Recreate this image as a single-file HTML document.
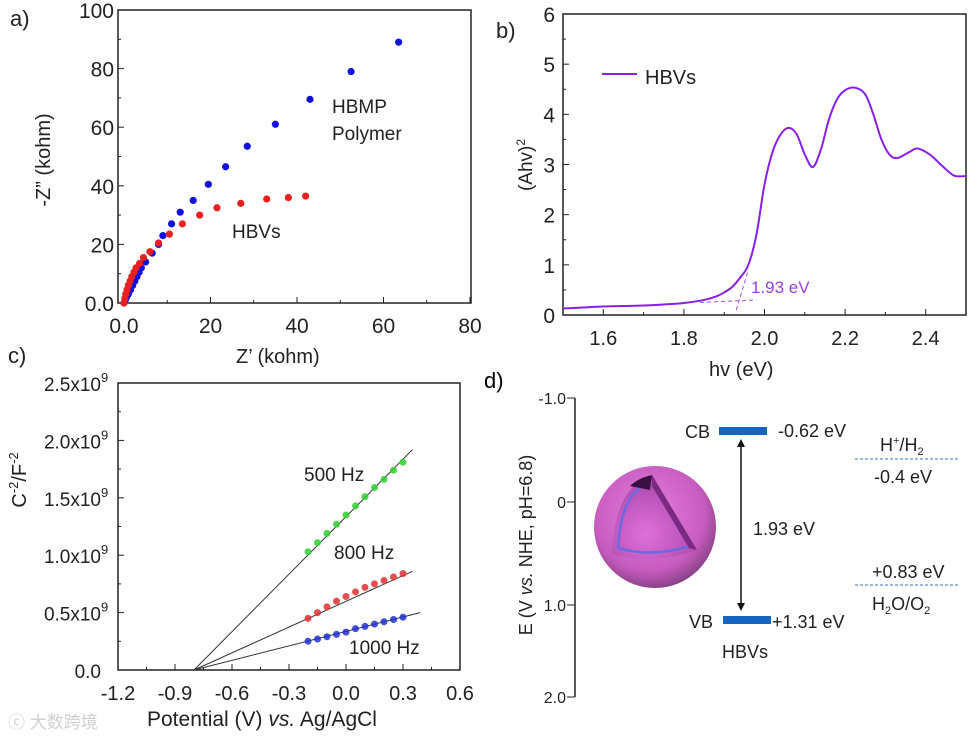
<!DOCTYPE html>
<html><head><meta charset="utf-8"><style>
html,body{margin:0;padding:0;background:#fff;}
svg{display:block;font-family:"Liberation Sans","Noto Sans CJK SC",sans-serif;}
</style></head><body>
<svg id="fig" width="976" height="736" viewBox="0 0 976 736" xmlns="http://www.w3.org/2000/svg">
<defs>
<radialGradient id="sph" cx="0.45" cy="0.4" r="0.65">
<stop offset="0" stop-color="#e97fe0"/><stop offset="0.7" stop-color="#c75cc0"/><stop offset="1" stop-color="#7a3a78"/>
</radialGradient>
<radialGradient id="inner" cx="0.4" cy="0.7" r="0.8">
<stop offset="0" stop-color="#e070dc"/><stop offset="1" stop-color="#a040a0"/>
</radialGradient>
</defs>
<g id="pa"></g>
<g id="pb"></g>
<g id="pc"></g>
<g id="pd">
<text x="484" y="388" font-size="22">d)</text>
<line x1="575" y1="398" x2="575" y2="697" stroke="#222" stroke-width="1.5"/>
<g font-size="16" text-anchor="end" fill="#222">
<line x1="567" y1="398" x2="575" y2="398" stroke="#222"/><text x="566" y="404">-1.0</text>
<line x1="567" y1="502" x2="575" y2="502" stroke="#222"/><text x="566" y="508">0</text>
<line x1="567" y1="605" x2="575" y2="605" stroke="#222"/><text x="566" y="611">1.0</text>
<line x1="567" y1="697" x2="575" y2="697" stroke="#222"/><text x="566" y="703">2.0</text>
</g>
<text transform="translate(532,545) rotate(-90)" font-size="18" text-anchor="middle" fill="#222">E (V <tspan font-style="italic">vs.</tspan> NHE, pH=6.8)</text>
<g>
<circle cx="655" cy="527" r="61" fill="url(#sph)"/>
<path d="M652,475 Q614,488 612,554 Q652,566 697,550 Z" fill="url(#inner)"/>
<path d="M648,483 Q621,494 618,548 Q652,558 690,546" fill="none" stroke="#6a6ae0" stroke-width="2.5"/>
<path d="M652,475 L697,550 L689,548 L652,486 Z" fill="#7a2a80"/>
<path d="M652,475 Q638,478 630,486 L650,490 Z" fill="#3a1040"/>
</g>
<rect x="719" y="427" width="48" height="8" fill="#1565c0"/>
<rect x="723" y="616" width="48" height="8" fill="#1565c0"/>
<line x1="741" y1="446" x2="741" y2="604" stroke="#111" stroke-width="1.5"/>
<path d="M737,447 L741,439 L745,447 Z M737,603 L741,611 L745,603 Z" fill="#111"/>
<g font-size="18" fill="#222">
<text x="685" y="438">CB</text>
<text x="778" y="437">-0.62 eV</text>
<text x="753" y="535">1.93 eV</text>
<text x="689" y="628">VB</text>
<text x="772" y="628">+1.31 eV</text>
<text x="722" y="658">HBVs</text>
<text x="880" y="451">H<tspan font-size="11" dy="-7">+</tspan><tspan dy="7">/H</tspan><tspan font-size="11" dy="4">2</tspan></text>
<text x="874" y="483">-0.4 eV</text>
<text x="872" y="578">+0.83 eV</text>
<text x="872" y="610">H<tspan font-size="11" dy="4">2</tspan><tspan dy="-4">O/O</tspan><tspan font-size="11" dy="4">2</tspan></text>
</g>
<line x1="855" y1="459" x2="958" y2="459" stroke="#3b73c4" stroke-dasharray="3,2"/>
<line x1="855" y1="585" x2="958" y2="585" stroke="#3b73c4" stroke-dasharray="3,2"/>
</g>
<text x="8" y="728" font-size="17" fill="#cfcfcf">ⓒ 大数跨境</text>
</svg>
<script>
// Panel a data
const aBlueX=[0,0.3,0.6,1,1.5,2,2.5,3,3.5,4,5,6.5,8,9,11,13,16,19.5,23.5,28.5,35,43,52.5,63.5];
const aBlueY=[0,1,2,3,4.5,6,7.5,9,10.5,12,14,17,20,23,27,31,35,40.5,46.5,53.5,61,69.5,79,89];
const aRedX=[0,0.2,0.4,0.7,1,1.4,1.8,2.3,2.8,3.6,4.5,6,8,10.5,13.5,17.5,21.5,27,33,38,42];
const aRedY=[0,1.5,3,4.5,6,7.5,9,10.5,12,13.5,15.5,17.5,20.5,23.5,27,30,32.5,34,35.5,36,36.5];
const aXTicks=["0.0","20","40","60","80"];
const aYTicks=["0.0","20","40","60","80","100"];
// Panel b data
const bX=[1.5,1.55,1.6,1.65,1.7,1.75,1.8,1.85,1.88,1.9,1.92,1.94,1.96,1.98,2.0,2.02,2.04,2.06,2.08,2.1,2.12,2.14,2.16,2.18,2.2,2.225,2.25,2.27,2.29,2.31,2.33,2.36,2.38,2.41,2.44,2.47,2.5];
const bY=[0.13,0.15,0.17,0.18,0.19,0.21,0.24,0.3,0.37,0.45,0.56,0.75,1.0,1.6,2.6,3.25,3.6,3.73,3.6,3.2,2.95,3.3,3.9,4.3,4.48,4.53,4.4,4.0,3.5,3.2,3.13,3.25,3.32,3.2,2.98,2.78,2.77];
const bXTicks=["1.6","1.8","2.0","2.2","2.4"];
const bYTicks=["0","1","2","3","4","5","6"];
// Panel c data
const cPotential=[-0.2,-0.15,-0.1,-0.05,0,0.05,0.1,0.15,0.2,0.25,0.3];
const c500=[1.03,1.11,1.19,1.27,1.35,1.43,1.51,1.59,1.66,1.74,1.81];
const c800=[0.45,0.5,0.55,0.6,0.64,0.68,0.72,0.75,0.78,0.81,0.84];
const c1000=[0.25,0.27,0.29,0.31,0.33,0.36,0.38,0.4,0.42,0.44,0.46];
const cFitStart=[-0.8,-0.8,-0.8];
const cFitEndX=[0.35,0.35,0.39];
const cFitEndY=[1.92,0.86,0.5];
const cXTicks=["-1.2","-0.9","-0.6","-0.3","0.0","0.3","0.6"];
const cYTicks=["0.0","0.5x10","1.0x10","1.5x10","2.0x10","2.5x10"];

const NS="http://www.w3.org/2000/svg";
function mk(parent,tag,attrs){const e=document.createElementNS(NS,tag);for(const k in attrs)e.setAttribute(k,attrs[k]);parent.appendChild(e);return e;}

// ---------- Panel a
(function(){
const g=document.getElementById('pa');
const L=118,R=471,T=10,B=303;
const sx=v=>124+v*(470-124)/80, sy=v=>B-v*(B-T)/100;
const f=mk(g,'rect',{x:L,y:T,width:R-L,height:B-T,fill:'none',stroke:'#222','stroke-width':1.5});


aXTicks.forEach((t,i)=>{const v=i*20;const x=sx(v);
mk(g,'line',{x1:x,y1:B,x2:x,y2:B-6,stroke:'#222'});
if(i<4)mk(g,'line',{x1:sx(v+10),y1:B,x2:sx(v+10),y2:B-3,stroke:'#222'});
const tx=mk(g,'text',{x:x,y:B+30,'font-size':21,'text-anchor':'middle',fill:'#222'});tx.textContent=t;

});
aYTicks.forEach((t,i)=>{const v=i*20;const y=sy(v);
mk(g,'line',{x1:L,y1:y,x2:L+6,y2:y,stroke:'#222'});
if(i<5)mk(g,'line',{x1:L,y1:sy(v+10),x2:L+3,y2:sy(v+10),stroke:'#222'});
const tx=mk(g,'text',{x:L-4,y:y+8,'font-size':21,'text-anchor':'end',fill:'#222'});tx.textContent=t;

});
aBlueX.forEach((x,i)=>{const c=mk(g,'circle',{cx:sx(x),cy:sy(aBlueY[i]),r:3.6,fill:'#1010e0'});

});
aRedX.forEach((x,i)=>{const c=mk(g,'circle',{cx:sx(x),cy:sy(aRedY[i]),r:3.6,fill:'#e82020'});

});
const lab=[["a)",10,26,22,'panel-label-a'],["HBMP",332,113,19,'hbmp-label'],["Polymer",332,140,19,'polymer-label'],["HBVs",232,238,19,'hbvs-label-a'],["Z’ (kohm)",236,363,20,'x-axis-title-a']];
lab.forEach(l=>{const t=mk(g,'text',{x:l[1],y:l[2],'font-size':l[3],fill:'#222'});t.textContent=l[0];

});
const yt=mk(g,'text',{transform:'translate(50,160) rotate(-90)','font-size':20,'text-anchor':'middle',fill:'#222'});yt.textContent='-Z” (kohm)';


})();

// ---------- Panel b
(function(){
const g=document.getElementById('pb');
const L=563,R=966,T=14,B=315;
const sx=v=>L+(v-1.5)*(R-L)/1.0, sy=v=>B-v*(B-T)/6;
const f=mk(g,'rect',{x:L,y:T,width:R-L,height:B-T,fill:'none',stroke:'#222','stroke-width':1.5});


for(let i=0;i<=10;i++){const x=sx(1.5+i*0.1);mk(g,'line',{x1:x,y1:B,x2:x,y2:B-(i%2?6:3),stroke:'#222'});}
bXTicks.forEach((t,i)=>{const tx=mk(g,'text',{x:sx(1.6+i*0.2),y:B+30,'font-size':20,'text-anchor':'middle',fill:'#222'});tx.textContent=t;

});
bYTicks.forEach((t,i)=>{const y=sy(i);mk(g,'line',{x1:L,y1:y,x2:L+6,y2:y,stroke:'#222'});
if(i<6)mk(g,'line',{x1:L,y1:sy(i+0.5),x2:L+3,y2:sy(i+0.5),stroke:'#222'});
const tx=mk(g,'text',{x:L-8,y:y+8,'font-size':21,'text-anchor':'end',fill:'#222'});tx.textContent=t;

});
let pts=bX.map((x,i)=>[sx(x),sy(bY[i])]);
let d='M'+pts[0][0]+','+pts[0][1];
for(let i=0;i<pts.length-1;i++){const p0=pts[Math.max(0,i-1)],p1=pts[i],p2=pts[i+1],p3=pts[Math.min(pts.length-1,i+2)];
d+=' C'+(p1[0]+(p2[0]-p0[0])/6)+','+(p1[1]+(p2[1]-p0[1])/6)+' '+(p2[0]-(p3[0]-p1[0])/6)+','+(p2[1]-(p3[1]-p1[1])/6)+' '+p2[0]+','+p2[1];}
const c=mk(g,'path',{d:d,fill:'none',stroke:'#8a1fe8','stroke-width':2});


const t1=mk(g,'line',{x1:sx(1.84),y1:sy(0.25),x2:sx(1.98),y2:sy(0.3),stroke:'#a050e0','stroke-dasharray':'4,3'});


const t2=mk(g,'line',{x1:sx(1.93),y1:sy(0.1),x2:sx(1.96),y2:sy(0.9),stroke:'#a050e0','stroke-dasharray':'4,3'});


const lg=mk(g,'line',{x1:602,y1:74,x2:637,y2:74,stroke:'#8a1fe8','stroke-width':2});


const lab=[["HBVs",645,84,20,'#222','legend-label'],["1.93 eV",751,293,17,'#9a40e0','bandgap-label-b'],["b)",496,38,22,'#222','panel-label-b'],["hv (eV)",709,376,20,'#222','x-axis-title-b']];
lab.forEach(l=>{const t=mk(g,'text',{x:l[1],y:l[2],'font-size':l[3],fill:l[4]});t.textContent=l[0];

});
const yt=mk(g,'text',{transform:'translate(532,165) rotate(-90)','font-size':19,'text-anchor':'middle',fill:'#222'});
yt.innerHTML='(Ahv)<tspan font-size="12" dy="-7">2</tspan>';


})();

// ---------- Panel c
(function(){
const g=document.getElementById('pc');
const L=118,R=460,T=383,B=670;
const sx=v=>L+(v+1.2)*(R-L)/1.8, sy=v=>B-v*(B-T)/2.5;
const f=mk(g,'rect',{x:L,y:T,width:R-L,height:B-T,fill:'none',stroke:'#222','stroke-width':1.5});


cXTicks.forEach((t,i)=>{const v=-1.2+i*0.3;const x=sx(v);
mk(g,'line',{x1:x,y1:B,x2:x,y2:B-6,stroke:'#222'});
if(i<6)mk(g,'line',{x1:sx(v+0.15),y1:B,x2:sx(v+0.15),y2:B-3,stroke:'#222'});
const tx=mk(g,'text',{x:x,y:B+30,'font-size':20,'text-anchor':'middle',fill:'#222'});tx.textContent=t;

});
cYTicks.forEach((t,i)=>{const v=i*0.5;const y=sy(v);
mk(g,'line',{x1:L,y1:y,x2:L+6,y2:y,stroke:'#222'});
if(i<5)mk(g,'line',{x1:L,y1:sy(v+0.25),x2:L+3,y2:sy(v+0.25),stroke:'#222'});
const tx=mk(g,'text',{x:L-17,y:y+8,'font-size':19,'text-anchor':'end',fill:'#222'});tx.textContent=t;


if(i>0){const s=mk(g,'text',{x:L-17,y:y-1,'font-size':13,fill:'#222'});s.textContent='9';}});
[0,1,2].forEach(k=>{const ln=mk(g,'line',{x1:sx(cFitStart[k]),y1:sy(0),x2:sx(cFitEndX[k]),y2:sy(cFitEndY[k]),stroke:'#333','stroke-width':1});

});
const series=[[c500,'#30d030','points-500hz'],[c800,'#e03030','points-800hz'],[c1000,'#2030d0','points-1000hz']];
series.forEach(s=>{cPotential.forEach((p,i)=>{const c=mk(g,'circle',{cx:sx(p),cy:sy(s[0][i]),r:3.5,fill:s[1],opacity:0.85});

});});
const lab=[["500 Hz",304,481,19,'label-500hz'],["800 Hz",334,559,19,'label-800hz'],["1000 Hz",349,654,19,'label-1000hz'],["c)",8,363,22,'panel-label-c']];
lab.forEach(l=>{const t=mk(g,'text',{x:l[1],y:l[2],'font-size':l[3],fill:'#222'});t.textContent=l[0];

});
const xt=mk(g,'text',{x:147,y:726,'font-size':21,fill:'#222'});
xt.innerHTML='Potential (V) <tspan font-style="italic">vs.</tspan> Ag/AgCl';


const yt=mk(g,'text',{transform:'translate(26,480) rotate(-90)','font-size':20,'text-anchor':'middle',fill:'#222'});
yt.innerHTML='C<tspan font-size="13" dy="-8">-2</tspan><tspan dy="8">/F</tspan><tspan font-size="13" dy="-8">-2</tspan>';


})();
</script>
</body></html>
